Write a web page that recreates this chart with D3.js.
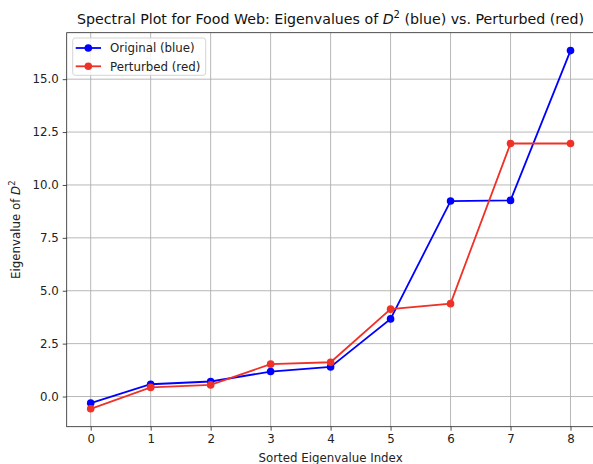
<!DOCTYPE html>
<html>
<head>
<meta charset="utf-8">
<script src="https://cdn.jsdelivr.net/npm/d3@7"></script>
<style>
  body { margin: 0; background: #fff; }
  svg { display: block; font-family: "DejaVu Sans", sans-serif; }
</style>
</head>
<body>
<div id="chart"></div>
<script>
// Data
var indices = [0, 1, 2, 3, 4, 5, 6, 7, 8];
var originalVals = [-0.31, 0.58, 0.71, 1.18, 1.40, 3.67, 9.24, 9.27, 16.35];
var perturbedVals = [-0.58, 0.43, 0.55, 1.53, 1.62, 4.13, 4.39, 11.96, 11.96];
var yTicks = [0, 2.5, 5, 7.5, 10, 12.5, 15];
var seriesNames = ["Original (blue)", "Perturbed (red)"];
var seriesColors = ["#0000ff", "#ee3228"];

// Figure size and axes box (right spine falls just outside the picture)
var W = 593, H = 464;
var margin = { top: 32.7, right: -1.5, bottom: 37.3, left: 66.7 },
    width = W - margin.left - margin.right,
    height = H - margin.top - margin.bottom;

var svg = d3.select("#chart")
  .append("svg")
    .attr("width", W)
    .attr("height", H);

var g = svg.append("g")
  .attr("transform", "translate(" + margin.left + "," + margin.top + ")");

// matplotlib-style 5% margins
var x = d3.scaleLinear()
  .domain([-0.4, 8.4])
  .range([0, width]);

var allVals = originalVals.concat(perturbedVals);
var yMin = d3.min(allVals), yMax = d3.max(allVals), yPad = (yMax - yMin) * 0.05;
var y = d3.scaleLinear()
  .domain([yMin - yPad, yMax + yPad])
  .range([height, 0]);

// Grid
g.append("g")
  .selectAll("line.vgrid")
  .data(indices)
  .enter().append("line")
    .attr("x1", function(d) { return x(d); })
    .attr("x2", function(d) { return x(d); })
    .attr("y1", 0)
    .attr("y2", height)
    .attr("stroke", "#b0b0b0")
    .attr("stroke-width", 0.9);

g.append("g")
  .selectAll("line.hgrid")
  .data(yTicks)
  .enter().append("line")
    .attr("x1", 0)
    .attr("x2", width)
    .attr("y1", function(d) { return y(d); })
    .attr("y2", function(d) { return y(d); })
    .attr("stroke", "#b0b0b0")
    .attr("stroke-width", 0.9);

// Axes
var xAxis = g.append("g")
  .attr("transform", "translate(0," + height + ")")
  .call(d3.axisBottom(x).tickValues(indices).tickFormat(d3.format("d")).tickSize(4).tickPadding(4).tickSizeOuter(0));

var yAxis = g.append("g")
  .call(d3.axisLeft(y).tickValues(yTicks).tickFormat(d3.format(".1f")).tickSize(4).tickPadding(4).tickSizeOuter(0));

[xAxis, yAxis].forEach(function(a) {
  a.select(".domain").remove();
  a.selectAll("line").attr("stroke", "#222").attr("stroke-width", 0.8);
  a.selectAll("text")
    .attr("font-family", "DejaVu Sans")
    .attr("font-size", "11.8px")
    .attr("fill", "#222");
});

// Spines
g.append("rect")
  .attr("x", 0)
  .attr("y", 0)
  .attr("width", width)
  .attr("height", height)
  .attr("fill", "none")
  .attr("stroke", "#222")
  .attr("stroke-width", 0.8);

// Lines and markers
var line = d3.line()
  .x(function(d, i) { return x(indices[i]); })
  .y(function(d) { return y(d); });

[originalVals, perturbedVals].forEach(function(vals, k) {
  g.append("path")
    .datum(vals)
    .attr("d", line)
    .attr("fill", "none")
    .attr("stroke", seriesColors[k])
    .attr("stroke-width", 1.8);

  g.selectAll("circle.s" + k)
    .data(vals)
    .enter().append("circle")
      .attr("class", "s" + k)
      .attr("cx", function(d, i) { return x(indices[i]); })
      .attr("cy", function(d) { return y(d); })
      .attr("r", 3.8)
      .attr("fill", seriesColors[k]);
});

// Title
var title = svg.append("text")
  .attr("x", margin.left + width / 2)
  .attr("y", 24)
  .attr("text-anchor", "middle")
  .attr("font-size", "14.2px")
  .attr("fill", "#111");
title.append("tspan").text("Spectral Plot for Food Web: Eigenvalues of ");
title.append("tspan").attr("font-style", "italic").text("D");
title.append("tspan").attr("font-size", "10px").attr("dy", -6).text("2");
title.append("tspan").attr("dy", 6).text(" (blue) vs. Perturbed (red)");

// X axis label
svg.append("text")
  .attr("x", margin.left + width / 2)
  .attr("y", 462)
  .attr("text-anchor", "middle")
  .attr("font-size", "11.8px")
  .attr("fill", "#222")
  .text("Sorted Eigenvalue Index");

// Y axis label
var ylab = svg.append("text")
  .attr("transform", "translate(20," + (margin.top + height / 2) + ") rotate(-90)")
  .attr("text-anchor", "middle")
  .attr("font-size", "11.8px")
  .attr("fill", "#222");
ylab.append("tspan").text("Eigenvalue of ");
ylab.append("tspan").attr("font-style", "italic").text("D");
ylab.append("tspan").attr("font-size", "8.5px").attr("dy", -5).text("2");

// Legend
var legend = svg.append("g");
legend.append("rect")
  .attr("x", 72.7)
  .attr("y", 38)
  .attr("width", 133)
  .attr("height", 37.3)
  .attr("rx", 2.5)
  .attr("fill", "#fff")
  .attr("fill-opacity", 0.8)
  .attr("stroke", "#d0d0d0")
  .attr("stroke-width", 0.9);

seriesNames.forEach(function(name, k) {
  var cy = 48 + k * 18.3;
  legend.append("line")
    .attr("x1", 75.7).attr("x2", 101)
    .attr("y1", cy).attr("y2", cy)
    .attr("stroke", seriesColors[k])
    .attr("stroke-width", 1.8);
  legend.append("circle")
    .attr("cx", 88.3).attr("cy", cy)
    .attr("r", 3.8)
    .attr("fill", seriesColors[k]);
  legend.append("text")
    .attr("x", 110)
    .attr("y", cy + 4.2)
    .attr("font-size", "11.8px")
    .attr("fill", "#222")
    .text(name);
});
</script>
</body>
</html>
